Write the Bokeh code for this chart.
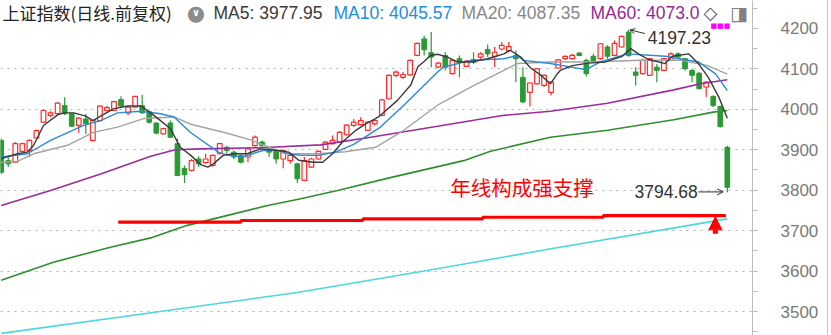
from bokeh.plotting import figure
from bokeh.models import (ColumnDataSource, Label, Arrow, OpenHead, NormalHead,
                          SingleIntervalTicker, FixedTicker, Range1d)
from bokeh.embed import file_html
from bokeh.resources import INLINE

# ---------------- data ----------------
opens = [3923, 3873, 3869, 3896, 3898, 3929, 3968, 3985, 3989, 4009,
         3989, 3960, 3976, 3923, 3972, 3997, 3997, 4024, 3991, 4005,
         4009, 3994, 3966, 3939, 3966, 3915, 3854, 3849, 3877, 3868,
         3861, 3890, 3906, 3894, 3886, 3882, 3910, 3919, 3902, 3898,
         3877, 3873, 3865, 3824, 3857, 3877, 3901, 3915, 3919, 3937,
         3960, 3962, 3948, 3964, 3985, 4026, 4084, 4079, 4085, 4133,
         4174, 4140, 4104, 4133, 4088, 4125, 4106, 4123, 4129, 4148,
         4131, 4149, 4145, 4133, 4079, 4042, 4063, 4059, 4042, 4102,
         4125, 4125, 4139, 4121, 4131, 4125, 4154, 4133, 4154, 4191,
         4092, 4088, 4084, 4104, 4096, 4121, 4137, 4125, 4096, 4089,
         4055, 4032, 4007, 3906]
highs = [3928, 3882, 3919, 3917, 3925, 3950, 3999, 3995, 4018, 4030,
         3991, 3980, 3989, 3975, 4009, 4009, 4021, 4032, 4008, 4033,
         4036, 3997, 3968, 3953, 3972, 3927, 3861, 3877, 3884, 3890,
         3888, 3917, 3910, 3898, 3888, 3905, 3935, 3923, 3906, 3900,
         3900, 3890, 3868, 3882, 3880, 3898, 3921, 3935, 3946, 3963,
         3976, 3980, 3970, 3976, 4025, 4086, 4096, 4092, 4123, 4165,
         4182, 4191, 4116, 4141, 4123, 4133, 4121, 4141, 4141, 4160,
         4154, 4166, 4166, 4145, 4104, 4067, 4102, 4086, 4069, 4124,
         4133, 4137, 4141, 4125, 4137, 4164, 4158, 4170, 4182, 4197.23,
         4104, 4125, 4127, 4112, 4127, 4141, 4141, 4127, 4100, 4092,
         4069, 4034, 4009, 3910]
lows = [3840, 3857, 3868, 3894, 3882, 3927, 3966, 3980, 3986, 3986,
        3956, 3942, 3939, 3920, 3970, 3995, 3995, 4005, 3985, 4004,
        3989, 3964, 3938, 3938, 3929, 3835, 3818, 3846, 3857, 3866,
        3858, 3888, 3890, 3877, 3866, 3869, 3908, 3906, 3882, 3865,
        3854, 3865, 3818, 3822, 3855, 3875, 3899, 3913, 3917, 3935,
        3956, 3960, 3946, 3960, 3983, 4024, 4079, 4075, 4083, 4131,
        4133, 4104, 4102, 4096, 4086, 4079, 4104, 4112, 4125, 4129,
        4104, 4145, 4141, 4067, 4016, 4007, 4061, 4055, 4034, 4100,
        4122, 4123, 4131, 4081, 4116, 4123, 4125, 4131, 4152, 4130,
        4059, 4086, 4082, 4067, 4094, 4119, 4125, 4096, 4067, 4049,
        4030, 4005, 3955, 3794.68]
closes = [3844, 3865, 3915, 3915, 3923, 3947, 3997, 3991, 4015, 3989,
          3958, 3978, 3964, 3972, 4008, 4004, 4019, 4008, 4005, 4032,
          3991, 3968, 3941, 3952, 3931, 3836, 3838, 3873, 3865, 3877,
          3886, 3915, 3898, 3882, 3869, 3902, 3931, 3910, 3894, 3877,
          3898, 3886, 3828, 3873, 3877, 3896, 3919, 3923, 3943, 3961,
          3968, 3972, 3968, 3972, 4023, 4084, 4092, 4086, 4121, 4163,
          4147, 4129, 4114, 4104, 4121, 4116, 4119, 4116, 4137, 4137,
          4141, 4158, 4155, 4125, 4018, 4065, 4100, 4084, 4067, 4122,
          4131, 4133, 4133, 4088, 4119, 4162, 4131, 4163, 4180, 4133,
          4084, 4121, 4125, 4096, 4125, 4137, 4129, 4100, 4084, 4051,
          4067, 4009, 3957, 3807]

ma5_i = [0, 2.3, 3.7, 4.6, 6, 8, 8.9, 10.3, 12, 13, 14.1, 15.9, 17.9, 19.8, 21.2,
         22.6, 24, 25.4, 26.9, 28.3, 29.3, 30.1, 31.5, 33, 34.9, 36.8, 39.3, 40.8,
         42.2, 44.2, 45.6, 47, 48.4, 50.3, 51.7, 53.1, 53.8, 56.2, 58.1, 59.1, 59.9,
         60.9, 61.9, 63.3, 64.7, 66.6, 69, 71.3, 72.2, 73.7, 75.1, 76.5, 77.9, 78.9,
         79.3, 81, 83.3, 85.7, 88.1, 89.3, 90.4, 91.8, 94.2, 95.2, 97.5, 98.9, 100.3,
         101.8, 103]
ma5_v = [3878, 3890, 3894, 3911, 3960, 3986, 3991, 3991, 3983, 3972, 3983, 4001, 4008,
         4008, 3991, 3972, 3952, 3906, 3886, 3863, 3857, 3865, 3886, 3890, 3890, 3902,
         3898, 3894, 3874, 3869, 3869, 3890, 3919, 3948, 3964, 3977, 3985, 4022, 4060,
         4105, 4117, 4133, 4136, 4129, 4117, 4117, 4125, 4137, 4146, 4129, 4102, 4085,
         4063, 4088, 4096, 4108, 4114, 4117, 4131, 4150, 4137, 4123, 4113, 4131, 4137,
         4113, 4079, 4030, 3978]
ma10_i = [0, 3.7, 7, 11.7, 14.1, 16.5, 19.8, 22.6, 24.5, 26.9, 30.8, 32.2, 34.2, 37.1,
          39.3, 41.3, 42.7, 45, 47.4, 50, 53.8, 57.1, 59.5, 61.9, 62.7, 66.6, 71.3, 73.2,
          74.1, 77.9, 82.9, 85, 88.8, 94.2, 98.9, 101.3, 103]
ma10_v = [3882, 3890, 3923, 3960, 3972, 3991, 3995, 3989, 3981, 3942, 3894, 3886, 3882,
          3898, 3898, 3888, 3886, 3886, 3894, 3913, 3956, 4010, 4051, 4092, 4104, 4121,
          4125, 4133, 4121, 4113, 4098, 4117, 4137, 4131, 4117, 4088, 4046]
ma20_i = [0, 2.3, 4.6, 9.4, 13.1, 16.5, 20.2, 24.5, 26.9, 32.2, 35.6, 40.3, 45, 48.8,
          53.1, 57.1, 61.9, 66.6, 71.3, 73.2, 77.9, 83.6, 90.7, 96.4, 100.2, 103]
ma20_v = [3869, 3871, 3890, 3911, 3943, 3956, 3977, 3981, 3963, 3940, 3923, 3890, 3890,
          3895, 3906, 3948, 4010, 4055, 4096, 4113, 4117, 4117, 4121, 4121, 4108, 4087]
ma60_i = [0, 7, 14.1, 21.2, 24.7, 28.3, 36.8, 45.3, 52.4, 61.9, 71.3, 77.9, 86, 95.4,
          99.2, 103]
ma60_v = [3762, 3799, 3840, 3884, 3900, 3902, 3905, 3912, 3931, 3958, 3985, 3995, 4015,
          4048, 4063, 4073]
ma120_i = [0, 7.4, 15.5, 21.2, 26.4, 30.1, 37.8, 42.5, 47.7, 55.2, 65.6, 69.4, 77.9, 86,
           95.4, 101, 103]
ma120_v = [3577, 3622, 3659, 3682, 3713, 3729, 3762, 3779, 3799, 3831, 3873, 3896, 3931,
           3948, 3974, 3993, 3997]
ma250_i = [0, 20, 42, 60, 78, 103]
ma250_v = [3446, 3494, 3547, 3600, 3655, 3729]

support_i = [16.6, 34.0, 51.3, 68.3, 85.4, 102.8]
support_v = [3721, 3725, 3729, 3733, 3737, 3737]

y_ticks = [3500, 3600, 3700, 3800, 3900, 4000, 4100]
legend_texts = ["MA5: 3977.95", "MA10: 4045.57", "MA20: 4087.35", "MA60: 4073.0"]
title_text = "上证指数(日线.前复权)"
note_text = "年线构成强支撑"
high_text = "4197.23"
low_text = "3794.68"

# ---------------- styles ----------------
RED = "#ff2a2a"
GREEN = "#2a9a35"
C5, C10, C20, C60, C120, C250 = "#3a3a3a", "#2a8ad6", "#a3a3a3", "#9c2c9c", "#2e8f2e", "#4ad8de"
NUM_FONT = "Liberation Sans"
CJK_FONT = "Noto Sans CJK SC"

n = len(opens)
idx = list(range(n))
up = [c >= o for o, c in zip(opens, closes)]


def subset(flag):
    sel = [i for i in idx if up[i] == flag]
    return ColumnDataSource(dict(
        x=sel,
        top=[max(opens[i], closes[i]) for i in sel],
        bottom=[min(opens[i], closes[i]) for i in sel],
        high=[highs[i] for i in sel],
        low=[lows[i] for i in sel],
    ))


src_up = subset(True)
src_dn = subset(False)

p = figure(width=828, height=335, x_range=Range1d(-0.1, 106.57),
           y_range=Range1d(3440.7, 4268.9), x_axis_location=None,
           y_axis_location="right", toolbar_location=None, output_backend="svg",
           title=None, min_border_left=0, min_border_right=76, min_border_top=0,
           min_border_bottom=0)
p.styles = {"border-right": "1px solid #c4c4c4"}
p.outline_line_color = None
p.background_fill_color = "white"
p.border_fill_color = "white"
p.xgrid.visible = False
p.ygrid.ticker = FixedTicker(ticks=y_ticks)
p.ygrid.grid_line_color = "#b0b0b0"
p.ygrid.grid_line_dash = "2 5"
p.ygrid.grid_line_width = 1

ax = p.yaxis[0]
ax.ticker = SingleIntervalTicker(interval=100, num_minor_ticks=2)
ax.axis_line_color = "#bcbcbc"
ax.major_tick_line_color = "#bcbcbc"
ax.minor_tick_line_color = "#bcbcbc"
ax.major_tick_in = 0
ax.major_tick_out = 5
ax.minor_tick_in = 0
ax.minor_tick_out = 5
ax.major_label_standoff = 23
ax.major_label_text_font = NUM_FONT
ax.major_label_text_font_size = "17px"
ax.major_label_text_color = "#7a7a7a"

# long-term lines under candles
p.line(ma250_i, ma250_v, line_color=C250, line_width=1.6)
p.line(ma120_i, ma120_v, line_color=C120, line_width=1.6)
p.step(support_i, support_v, mode="after", line_color="#ff0000", line_width=3.2)

# candles
p.segment("x", "high", "x", "low", source=src_dn, line_color=GREEN, line_width=1.2)
p.vbar(x="x", top="top", bottom="bottom", width=0.66, source=src_dn,
       fill_color=GREEN, line_color=GREEN, line_width=1)
p.segment("x", "high", "x", "low", source=src_up, line_color=RED, line_width=1.2)
p.vbar(x="x", top="top", bottom="bottom", width=0.66, source=src_up,
       fill_color="white", line_color=RED, line_width=1.2)

# moving averages
p.line(ma60_i, ma60_v, line_color=C60, line_width=1.6)
p.line(ma20_i, ma20_v, line_color=C20, line_width=1.4)
p.line(ma10_i, ma10_v, line_color=C10, line_width=1.4)
p.line(ma5_i, ma5_v, line_color=C5, line_width=1.4)

# support arrow
p.add_layout(Arrow(end=NormalHead(size=13, fill_color="#ff0000", line_color="#ff0000"),
                   x_start=101.3, y_start=3692, x_end=101.3, y_end=3734,
                   line_color="#ff0000", line_width=5))

# high / low annotations
hi_i = max(idx, key=lambda i: highs[i])
lo_i = min(idx, key=lambda i: lows[i])
p.add_layout(Arrow(end=OpenHead(size=5, line_color="#333333", line_width=1),
                   x_start=hi_i + 2.3, y_start=highs[hi_i] - 10,
                   x_end=hi_i + 0.2, y_end=highs[hi_i] - 1,
                   line_color="#333333", line_width=1))
p.add_layout(Label(x=hi_i + 2.7, y=highs[hi_i] - 19, text=high_text,
                   text_font=NUM_FONT, text_font_size="17.5px", text_color="#333333",
                   text_baseline="middle"))
p.add_layout(Arrow(end=OpenHead(size=6, line_color="#333333", line_width=1),
                   x_start=lo_i - 4.1, y_start=lows[lo_i] + 1,
                   x_end=lo_i - 0.6, y_end=lows[lo_i] + 1,
                   line_color="#333333", line_width=1))
p.add_layout(Label(x=lo_i - 4.2, y=lows[lo_i] + 2, text=low_text,
                   text_font=NUM_FONT, text_font_size="17.5px", text_color="#333333",
                   text_baseline="middle", text_align="right"))

p.add_layout(Label(x=63.7, y=3807, text=note_text, text_font=CJK_FONT,
                   text_font_size="20.5px", text_color="#ff0000",
                   text_baseline="middle"))

# header (screen coords, frame == canvas vertically)
HY = 335 - 12
p.add_layout(Label(x=2, y=HY, x_units="screen", y_units="screen", text=title_text,
                   text_font=CJK_FONT, text_font_size="17px", text_color="#222222",
                   text_baseline="middle"))
p.add_layout(Label(x=195.5, y=HY, x_units="screen", y_units="screen", text="●",
                   text_font="DejaVu Sans", text_font_size="21px", text_color="#8c8c8c",
                   text_baseline="middle", text_align="center"))
p.add_layout(Label(x=195.5, y=HY, x_units="screen", y_units="screen", text="∨",
                   text_font="DejaVu Sans", text_font_size="10px", text_color="white",
                   text_font_style="bold", text_baseline="middle", text_align="center"))
legend_x = [213, 333, 461, 590]
legend_c = [C5, "#1e8cdc", "#888888", "#962896"]
for t, x, c in zip(legend_texts, legend_x, legend_c):
    p.add_layout(Label(x=x, y=HY, x_units="screen", y_units="screen", text=t,
                       text_font=NUM_FONT, text_font_size="17.5px", text_color=c,
                       text_baseline="middle"))
p.add_layout(Label(x=710, y=HY, x_units="screen", y_units="screen", text="◇",
                   text_font="DejaVu Sans", text_font_size="18px", text_color="#555555",
                   text_baseline="middle", text_align="center"))
p.add_layout(Label(x=738.5, y=HY, x_units="screen", y_units="screen", text="◨",
                   text_font="DejaVu Sans", text_font_size="19px", text_color="#808080",
                   text_baseline="middle", text_align="center"))
p.add_layout(Label(x=710, y=335 - 25, x_units="screen", y_units="screen", text="■■■",
                   text_font="DejaVu Sans", text_font_size="7px", text_color="#ff00ff",
                   text_baseline="middle"))

open("out.html", "w").write(file_html(p, INLINE))
